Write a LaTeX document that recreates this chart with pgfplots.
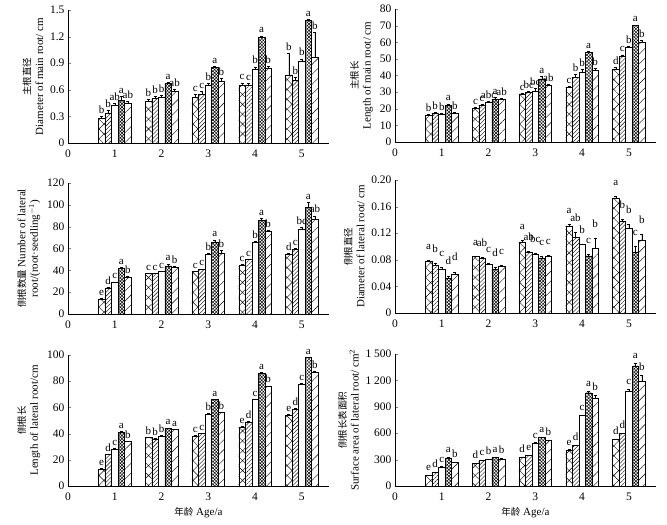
\documentclass[border=0pt]{standalone}
\usepackage{fontspec}
\setmainfont{Liberation Serif}
\newfontfamily\cjk{Noto Sans CJK SC}
\usepackage{pgfplots}
\pgfplotsset{compat=1.18}
\usepackage{pgfplotstable}
\usetikzlibrary{patterns.meta}

% x = age; v = mean; e = error; l = letters
\pgfplotstableread{
x v1 v2 v3 v4 v5 e1 e2 e3 e4 e5 l1 l2 l3 l4 l5
1 0.28 0.34 0.43 0.48 0.45 0.02 0.03 0.02 0.05 0.02 b b ab a ab
2 0.47 0.50 0.52 0.67 0.58 0.02 0.03 0.02 0.02 0.03 b b b a ab
3 0.52 0.55 0.65 0.85 0.70 0.03 0.03 0.02 0.02 0.03 c c b a b
4 0.65 0.65 0.83 1.19 0.84 0.03 0.02 0.03 0.02 0.03 c c b a b
5 0.77 0.71 0.92 1.38 0.97 0.24 0.03 0.03 0.02 0.28 b b b a b
}\dmain
\pgfplotstableread{
x v1 v2 v3 v4 v5 e1 e2 e3 e4 e5 l1 l2 l3 l4 l5
1 16 17.5 17 22 17.5 0.5 0.5 0.5 1 0.5 b b b a b
2 20.5 22 24 26 25.5 0.6 0.6 0.5 0.8 0.8 c c abc a ab
3 29 30 30.5 38 34 0.5 0.5 2 1.5 0.5 c bc bc a ab
4 33 39 42 54 43 0.5 1.5 2 0.8 1.5 c b b a b
5 44 51.5 57 70 60 1 1 0.5 0.5 1 d c b a b
}\lmain
\pgfplotstableread{
x v1 v2 v3 v4 v5 e1 e2 e3 e4 e5 l1 l2 l3 l4 l5
1 14 24 29 42 34 0.5 0.5 0.5 0.8 0.8 e d c a b
2 37 37 39 44 43 0.5 0.5 0.5 2 0.8 c c c a b
3 39 41 55 66 56 0.5 0.5 0.5 2 2.5 c c b a b
4 45 50 66 86 76 0.5 0.5 1 1.5 0.8 c c b a b
5 55 59 78 98 87 0.8 1.5 1.5 4.5 3 d c bc a ab
}\nlat
\pgfplotstableread{
x v1 v2 v3 v4 v5 e1 e2 e3 e4 e5 l1 l2 l3 l4 l5
1 0.078 0.072 0.066 0.052 0.059 0.001 0.003 0.003 0.004 0.003 a b c d d
2 0.085 0.083 0.074 0.066 0.070 0.001 0.001 0.001 0.003 0.002 a ab c d c
3 0.107 0.092 0.088 0.083 0.085 0.003 0.001 0.002 0.002 0.002 a ab bc c c
4 0.131 0.114 0.103 0.086 0.097 0.002 0.008 0.001 0.003 0.016 a ab b c b
5 0.173 0.138 0.128 0.092 0.110 0.003 0.003 0.006 0.008 0.008 a b b c b
}\dlat
\pgfplotstableread{
x v1 v2 v3 v4 v5 e1 e2 e3 e4 e5 l1 l2 l3 l4 l5
1 13 24 28 41 34 0.5 0.5 0.5 0.5 0.5 e d c a b
2 37 36 38 44 43 0.5 0.5 0.5 0.5 0.5 b b b a a
3 38 40 55 66 56 0.5 0.5 0.5 0.5 0.5 c c b a b
4 45 49 66 86 76 0.5 0.5 0.5 0.5 0.5 e d c a b
5 54 59 78 98 87 0.5 0.5 0.5 0.5 0.8 e d c a b
}\llat
\pgfplotstableread{
x v1 v2 v3 v4 v5 e1 e2 e3 e4 e5 l1 l2 l3 l4 l5
1 120 155 215 320 270 3 3 5 5 5 e d c a b
2 255 290 300 325 310 5 5 3 5 3 d c b a b
3 330 345 490 550 515 3 3 3 3 5 d e c a b
4 410 460 805 1060 1000 3 3 5 20 30 e d c a b
5 530 600 1075 1365 1195 5 5 30 30 60 d d c a b
}\slat

\pgfplotsset{
  panel/.style={
    scale only axis, width=261pt,
    xmin=0, xmax=5.58, ymin=0,
    axis x line=bottom, axis y line=left,
    axis line style={-, line width=0.6pt},
    xtick={0,...,5}, major x tick style={draw=none},
    tick align=inside, major tick length=3pt,
    /pgf/number format/assume math mode=true,
    tick label style={font=\fontsize{11.5}{13}\selectfont},
    label style={font=\fontsize{11}{12.5}\selectfont},
    ylabel style={align=center},
    ybar, bar width=0.14,
    clip=false,
  },
  errb/.style={error bars/y dir=plus, error bars/y explicit,
    error bars/error bar style={line width=0.4pt, black, solid},
    error bars/error mark options={rotate=90, mark size=1.5pt, line width=0.4pt, black}},
  b1/.style={draw=black, line width=0.4pt, pattern={Hatch[angle=45,distance=7pt,line width=0.4pt]}, errb},
  b2/.style={draw=black, line width=0.4pt, pattern={Lines[angle=45,distance=2.8pt,line width=0.4pt]}, errb},
  b3/.style={draw=black, line width=0.4pt, fill=white, errb},
  b4/.style={draw=black, line width=0.4pt, pattern={Hatch[angle=45,distance=2.3pt,line width=0.5pt]}, errb},
  b5/.style={draw=black, line width=0.4pt, pattern={Lines[angle=45,distance=7pt,line width=0.4pt]}, errb},
  lab/.style={draw=none, fill=none, nodes near coords, point meta=explicit symbolic,
    every node near coord/.append style={font=\fontsize{11}{12}\selectfont, inner sep=0pt, anchor=south, yshift=2.5pt, black}},
}

\newcommand\barset[2]{%
  \addplot[b1, bar shift=-0.28] table[x=x,y=v1,y error=e1]{#1};
  \addplot[b2, bar shift=-0.14] table[x=x,y=v2,y error=e2]{#1};
  \addplot[b3, bar shift=0] table[x=x,y=v3,y error=e3]{#1};
  \addplot[b4, bar shift=0.14] table[x=x,y=v4,y error=e4]{#1};
  \addplot[b5, bar shift=0.28] table[x=x,y=v5,y error=e5]{#1};
  \addplot[lab, bar shift=-0.28] table[x=x,y expr=\thisrow{v1}+\thisrow{e1}+#2,meta=l1]{#1};
  \addplot[lab, bar shift=-0.14] table[x=x,y expr=\thisrow{v2}+\thisrow{e2}+#2,meta=l2]{#1};
  \addplot[lab, bar shift=0] table[x=x,y expr=\thisrow{v3}+\thisrow{e3}+#2,meta=l3]{#1};
  \addplot[lab, bar shift=0.14] table[x=x,y expr=\thisrow{v4}+\thisrow{e4}+#2,meta=l4]{#1};
  \addplot[lab, bar shift=0.28] table[x=x,y expr=\thisrow{v5}+\thisrow{e5}+#2,meta=l5]{#1};
}

\newcommand\zh[1]{{\cjk\fontsize{9.5}{12}\selectfont #1}}

\begin{document}
\begin{tikzpicture}
\useasboundingbox (0,0) rectangle (667pt,-525pt);

\begin{axis}[panel, at={(68pt,-143pt)}, anchor=south west, height=133pt,
  ymax=1.5, ytick={0,0.3,0.6,0.9,1.2,1.5},
  ylabel={\zh{主根直径}\\Diameter of main root/ cm}]
\barset{\dmain}{0}
\end{axis}

\begin{axis}[panel, at={(395pt,-142pt)}, anchor=south west, height=133pt,
  ymax=80, ytick={0,10,...,80},
  ylabel={\zh{主根长}\\Length of main root/ cm}]
\barset{\lmain}{0}
\end{axis}

\begin{axis}[panel, at={(68pt,-314pt)}, anchor=south west, height=131pt,
  ymax=120, ytick={0,20,...,120},
  ylabel={\zh{侧根数量} Number of lateral\\root/(root·seedling$^{-1}$)}]
\barset{\nlat}{0}
\end{axis}

\begin{axis}[panel, at={(395pt,-313pt)}, anchor=south west, height=133pt,
  ymax=0.2, ytick={0,0.04,0.08,0.12,0.16,0.20},
  yticklabels={0,0.04,0.08,0.12,0.16,0.20},
  ylabel={\zh{侧根直径}\\Diameter of lateral root/ cm}]
\barset{\dlat}{0.012}
\end{axis}

\begin{axis}[panel, at={(68pt,-486pt)}, anchor=south west, height=131pt,
  ymax=100, ytick={0,20,...,100},
  xlabel={\zh{年龄} Age/a},
  ylabel={\zh{侧根长}\\Length of lateral root/cm}]
\barset{\llat}{0}
\end{axis}

\begin{axis}[panel, at={(395pt,-486pt)}, anchor=south west, height=132pt,
  ymax=1500, ytick={0,300,...,1500},
  /pgf/number format/1000 sep={\ },
  xlabel={\zh{年龄} Age/a},
  ylabel={\zh{侧根长表面积}\\Surface area of lateral root/ cm$^2$}]
\barset{\slat}{20}
\end{axis}

\end{tikzpicture}
\end{document}
